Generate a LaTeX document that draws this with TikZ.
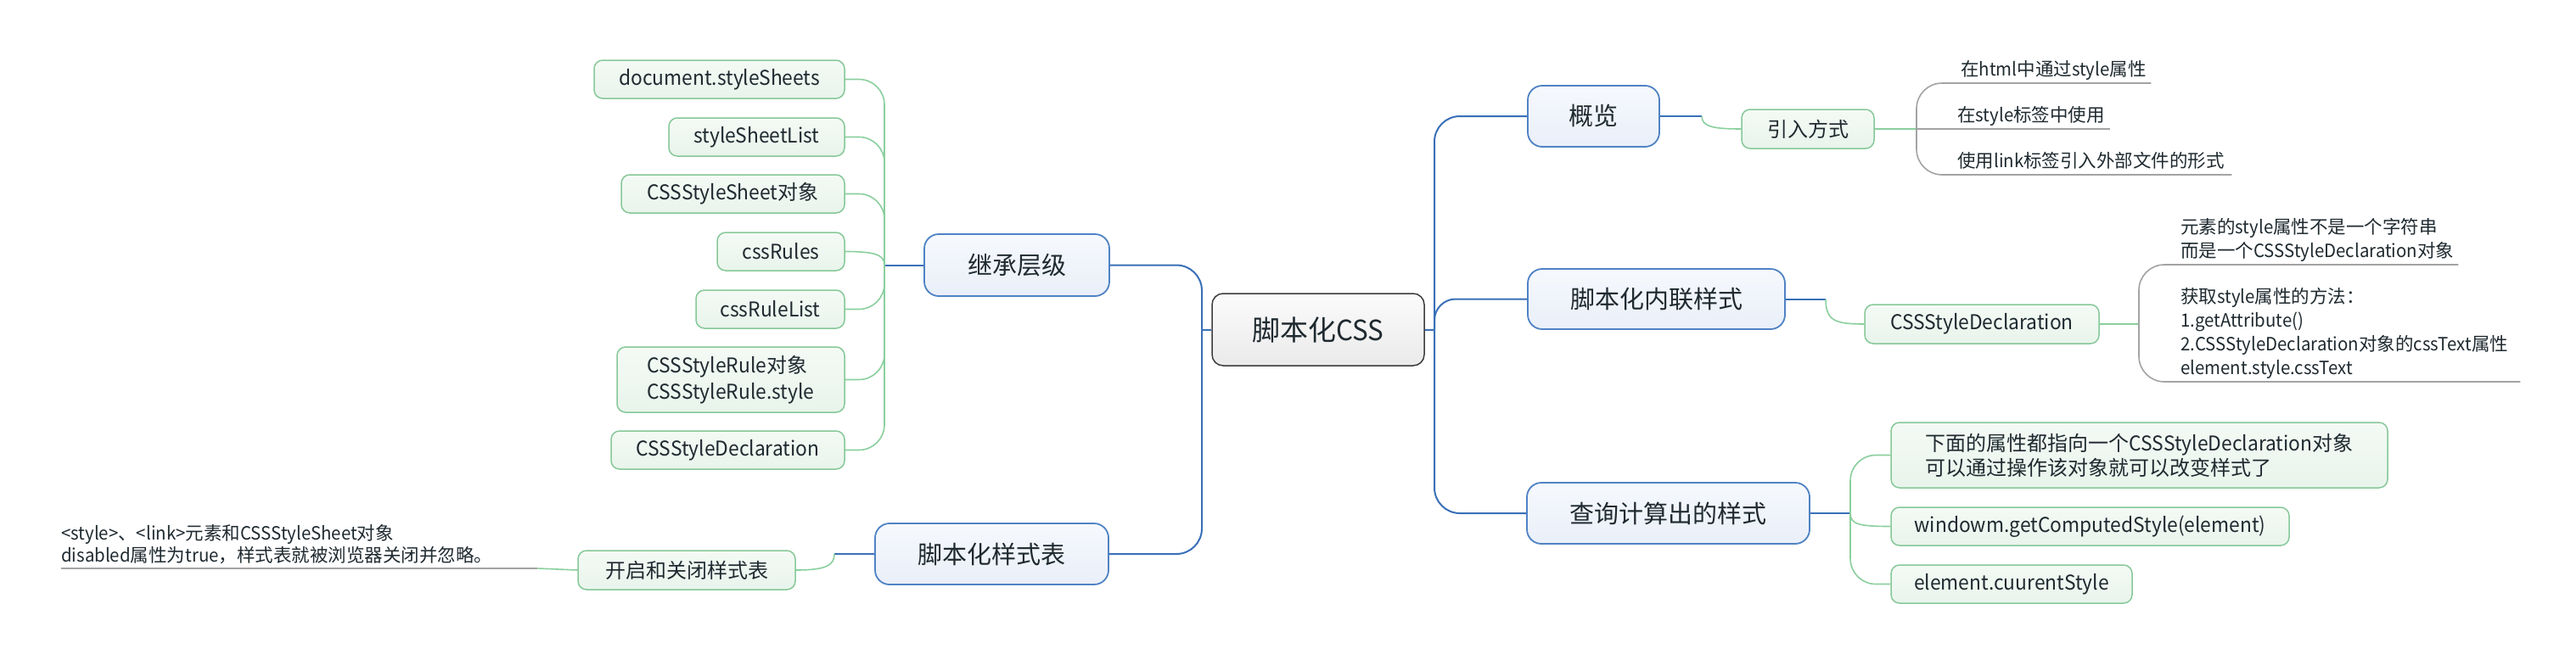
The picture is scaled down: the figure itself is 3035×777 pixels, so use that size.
\documentclass[tikz,border=0pt]{standalone}
\usepackage{fontspec}
\setmainfont{Noto Sans CJK SC}[FakeStretch=0.95]
\newfontfamily\cjkf{Noto Sans CJK SC}
\XeTeXinterchartokenstate=1
\newXeTeXintercharclass\CJKcls
\newcount\cjkcnt
\cjkcnt="3000
\loop \XeTeXcharclass\cjkcnt=\CJKcls \ifnum\cjkcnt<"303F \advance\cjkcnt by 1 \repeat
\cjkcnt="4E00
\loop \XeTeXcharclass\cjkcnt=\CJKcls \ifnum\cjkcnt<"9FFF \advance\cjkcnt by 1 \repeat
\cjkcnt="FF00
\loop \XeTeXcharclass\cjkcnt=\CJKcls \ifnum\cjkcnt<"FFEF \advance\cjkcnt by 1 \repeat
\XeTeXinterchartoks 0 \CJKcls = {\cjkf}
\XeTeXinterchartoks 4095 \CJKcls = {\cjkf}
\XeTeXinterchartoks \CJKcls 0 = {\rmfamily}
\XeTeXinterchartoks \CJKcls 4095 = {\rmfamily}
\definecolor{txt}{HTML}{1F2A30}
\definecolor{bline}{HTML}{3A70B8}
\definecolor{bdraw}{HTML}{4F82C4}
\definecolor{bfillt}{HTML}{F6F9FD}
\definecolor{bfillb}{HTML}{E9EFF9}
\definecolor{gdraw}{HTML}{86C898}
\definecolor{gfillt}{HTML}{F4FAF5}
\definecolor{gfillb}{HTML}{E8F4EB}
\definecolor{gline}{HTML}{8ACF9E}
\definecolor{yline}{HTML}{A3A3A3}
\definecolor{rdraw}{HTML}{3C3C3C}
\definecolor{rfillt}{HTML}{FBFBFB}
\definecolor{rfillb}{HTML}{EAEAEA}
\tikzset{
  dims/.style n args={2}{minimum width=#1pt, minimum height=#2pt},
  rootbox/.style={draw=rdraw, line width=1.5pt, rounded corners=13pt, top color=rfillt, bottom color=rfillb, text=txt, inner sep=0pt, font=\fontsize{33}{40}\selectfont},
  bluebox/.style={draw=bdraw, line width=1.8pt, rounded corners=17pt, top color=bfillt, bottom color=bfillb, text=txt, inner sep=0pt, font=\fontsize{29}{35}\selectfont},
  greenbox/.style={draw=gdraw, line width=1.5pt, rounded corners=10pt, top color=gfillt, bottom color=gfillb, text=txt, inner sep=0pt, font=\fontsize{24}{30}\selectfont},
  graytext/.style={inner sep=0pt, anchor=south west, align=left, text=txt, font=\fontsize{21.5}{28}\selectfont},
  blueline/.style={draw=bline, line width=2pt},
  greenline/.style={draw=gline, line width=1.6pt},
  grayline/.style={draw=yline, line width=1.6pt}
}
\begin{document}
\begin{tikzpicture}[x=1pt,y=-1pt]
\useasboundingbox (0,0) rectangle (3035,777);
\fill[white] (0,0) rectangle (3035,777);

% central
\node[rootbox, dims={250}{85}] (root) at (1553,388.5) {脚本化CSS};

% level 1
\node[bluebox, dims={155}{72}] (gl) at (1877.5,137) {概览};
\node[bluebox, dims={303}{71}] (nl) at (1951.5,352.5) {脚本化内联样式};
\node[bluebox, dims={333}{72}] (cx) at (1965.5,605) {查询计算出的样式};
\node[bluebox, dims={218}{73}] (jc) at (1198,312.5) {继承层级};
\node[bluebox, dims={275}{72}] (jb) at (1168.5,653) {脚本化样式表};

% junctions
\coordinate (jr) at (1690,388.5);
\coordinate (jl) at (1416,388.5);
\coordinate (j1) at (1042,312.5);
\coordinate (j2) at (2005,137);
\coordinate (j3) at (2258,152);
\coordinate (j4) at (2151,352.5);
\coordinate (j5) at (2520,382);
\coordinate (j6) at (2180,605);
\coordinate (j7) at (983,653);

% green boxes
\node[greenbox, dims={156}{46}] (yr) at (2130,152) {引入方式};
\node[greenbox, dims={276}{46}] (csd) at (2335,382) {CSSStyleDeclaration};
\node[greenbox, dims={585}{77}, align=left, font=\fontsize{24}{29}\selectfont] (q1) at (2520.5,536.5) {下面的属性都指向一个CSSStyleDeclaration对象\\可以通过操作该对象就可以改变样式了};
\node[greenbox, dims={469}{45}] (q2) at (2462.5,620.5) {windowm.getComputedStyle(element)};
\node[greenbox, dims={284}{45}] (q3) at (2370,688.5) {element.cuurentStyle};
\node[greenbox, dims={256}{46}] (kq) at (809,672) {开启和关闭样式表};

\node[greenbox, dims={295}{45}] (c1) at (847.5,93.5) {document.styleSheets};
\node[greenbox, dims={207}{45}] (c2) at (891.5,161.5) {styleSheetList};
\node[greenbox, dims={263}{45}] (c3) at (863.5,228.5) {CSSStyleSheet对象};
\node[greenbox, dims={150}{45}] (c4) at (920,296.5) {cssRules};
\node[greenbox, dims={175}{45}] (c5) at (907.5,364.5) {cssRuleList};
\node[greenbox, dims={268}{77}, align=left, font=\fontsize{24}{31}\selectfont] (c6) at (861,447.5) {CSSStyleRule对象\\CSSStyleRule.style};
\node[greenbox, dims={275}{45}] (c7) at (857.5,530.5) {CSSStyleDeclaration};

% gray text topics
\node[graytext, text width=224pt] (t1) at (2310,98) {在html中通过style属性\strut};
\node[graytext, text width=180pt] (t2) at (2306,152) {在style标签中使用\strut};
\node[graytext, text width=323pt] (t3) at (2306,206) {使用link标签引入外部文件的形式\strut};
\node[graytext, text width=327pt] (u1) at (2569,312) {元素的style属性不是一个字符串\\而是一个CSSStyleDeclaration对象\strut};
\node[graytext, text width=400pt] (u2) at (2569,450) {\mbox{}\\获取style属性的方法：\\1.getAttribute()\\2.CSSStyleDeclaration对象的cssText属性\\element.style.cssText\strut};
\node[graytext, text width=561pt, font=\fontsize{21.5}{26}\selectfont] (lt) at (72,670) {<style>、<link>元素和CSSStyleSheet对象\\disabled属性为true，样式表就被浏览器关闭并忽略。\strut};

% central connectors
\draw[blueline] (root.east) -- (jr);
\draw[blueline] (root.west) -- (jl);
\draw[blueline, rounded corners=30pt] (jr) |- (gl.west);
\draw[blueline, rounded corners=25pt] (jr) |- (nl.west);
\draw[blueline, rounded corners=30pt] (jr) |- (cx.west);
\draw[blueline, rounded corners=30pt] (jl) |- (jc.east);
\draw[blueline, rounded corners=30pt] (jl) |- (jb.east);

% 继承层级
\draw[blueline] (jc.west) -- (j1);
\draw[greenline, rounded corners=30pt] (c1.east) -| (j1);
\draw[greenline, rounded corners=30pt] (c2.east) -| (j1);
\draw[greenline, rounded corners=30pt] (c3.east) -| (j1);
\draw[greenline] (c4.east) .. controls (1030,296.5) and (1042,300) .. (j1);
\draw[greenline, rounded corners=30pt] (c5.east) -| (j1);
\draw[greenline, rounded corners=30pt] (c6.east) -| (j1);
\draw[greenline, rounded corners=30pt] (c7.east) -| (j1);

% 概览
\draw[blueline] (gl.east) -- (j2);
\draw[greenline] (j2) .. controls (2005,149) and (2018,152) .. (yr.west);
\draw[greenline] (yr.east) -- (j3);
\draw[grayline, rounded corners=30pt] (j3) |- (t1.south east);
\draw[grayline] (j3) -- (t2.south east);
\draw[grayline, rounded corners=30pt] (j3) |- (t3.south east);

% 脚本化内联样式
\draw[blueline] (nl.east) -- (j4);
\draw[greenline] (j4) .. controls (2151,378) and (2162,382) .. (csd.west);
\draw[greenline] (csd.east) -- (j5);
\draw[grayline, rounded corners=30pt] (j5) |- (u1.south east);
\draw[grayline, rounded corners=30pt] (j5) |- (u2.south east);

% 查询计算出的样式
\draw[blueline] (cx.east) -- (j6);
\draw[greenline, rounded corners=30pt] (j6) |- (q1.west);
\draw[greenline] (j6) .. controls (2180,618) and (2190,620.5) .. (q2.west);
\draw[greenline, rounded corners=30pt] (j6) |- (q3.west);

% 脚本化样式表
\draw[blueline] (jb.west) -- (j7);
\draw[greenline] (j7) .. controls (983,666) and (974,672) .. (kq.east);
\draw[greenline] (lt.south east) -- (kq.west);
\draw[grayline] (lt.south west) -- (lt.south east);
\end{tikzpicture}
\end{document}
